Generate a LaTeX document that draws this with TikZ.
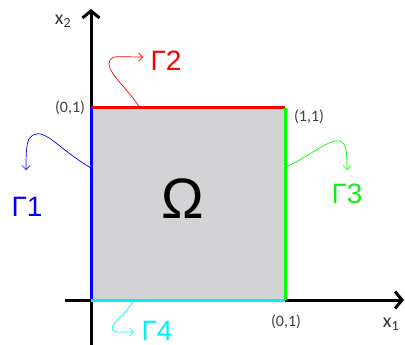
\documentclass[tikz,border=0pt]{standalone}
\usepackage{fontspec}
\setmainfont{Carlito}
\newfontfamily\arialfont{Liberation Sans}
\usetikzlibrary{arrows.meta}
\definecolor{gcyan}{RGB}{0,240,250}
\definecolor{ggreen}{RGB}{20,235,20}

\begin{document}
\begin{tikzpicture}[
      x=1pt, y=-1pt,
      axis/.style={line width=3pt, -{Straight Barb[length=7pt, width=17pt, line width=3pt]}},
      edge/.style={line width=3pt},
      bnd/.style={line width=0.7pt, -{Straight Barb[length=4pt, width=8pt]}},
      gam/.style={font=\arialfont\fontsize{28}{30}\selectfont, inner sep=0pt},
      pt/.style={font=\fontsize{16}{18}\selectfont, text=black!75, inner sep=0pt},
      ax/.style={font=\fontsize{20}{22}\selectfont, text=black!80, inner sep=0pt},
    ]
    \useasboundingbox (0,0) rectangle (405,345);

    % corners of the square
    \coordinate (sw) at (91,300);
    \coordinate (se) at (285,300);
    \coordinate (ne) at (285,108);
    \coordinate (nw) at (91,108);

    % axes
    \coordinate (xs) at (65,300);
    \coordinate (xe) at (404,300);
    \coordinate (ys) at (91,345);
    \coordinate (ye) at (91,9);
    \draw[axis] (xs) -- (xe);
    \draw[axis] (ys) -- (ye);
    \node[ax] (xlab) at (391,324) {x\textsubscript{1}};
    \node[ax] (ylab) at (63,21) {x\textsubscript{2}};

    % domain
    \fill[fill={rgb,255:red,211;green,211;blue,214}] (sw) rectangle (ne);
    \draw[edge, red] (nw) -- (ne);
    \draw[edge, blue] (sw) -- (nw);
    \draw[edge, green] (se) -- (ne);
    \draw[edge, gcyan] (sw) -- (se);
    \node[font=\arialfont\fontsize{57}{60}\selectfont, inner sep=0pt] (omega) at (183,199) {Ω};

    % corner labels
    \node[pt] (p01) at (70,108) {(0,1)};
    \node[pt] (p11) at (309,117) {(1,1)};
    \node[pt] (p10) at (286,322) {(0,1)};

    % boundary labels
    \node[gam, red] (g2) at (166,61) {Γ2};
    \node[gam, blue] (g1) at (27,207) {Γ1};
    \node[gam, ggreen] (g3) at (347,194) {Γ3};
    \node[gam, gcyan] (g4) at (157,331) {Γ4};

    \coordinate (a2) at (140,108);
    \coordinate (a1) at (91,168);
    \coordinate (a3) at (286,167);
    \coordinate (a4) at (133,302);
    \draw[bnd, red] (a2) .. controls (125,85) and (104,70) .. (110,60)
      .. controls (113,55) and (120,57) .. (143,57);
    \draw[bnd, blue] (a1) .. controls (60,150) and (45,128) .. (33,135)
      .. controls (27,138) and (26,146) .. (26,170);
    \draw[bnd, green] (a3) .. controls (310,156) and (330,138) .. (340,141)
      .. controls (346,143) and (347,150) .. (347,170);
    \draw[bnd, gcyan] (a4) .. controls (125,315) and (108,326) .. (113,330)
      .. controls (116,333) and (121,332) .. (134,332);
  \end{tikzpicture}
\end{document}
